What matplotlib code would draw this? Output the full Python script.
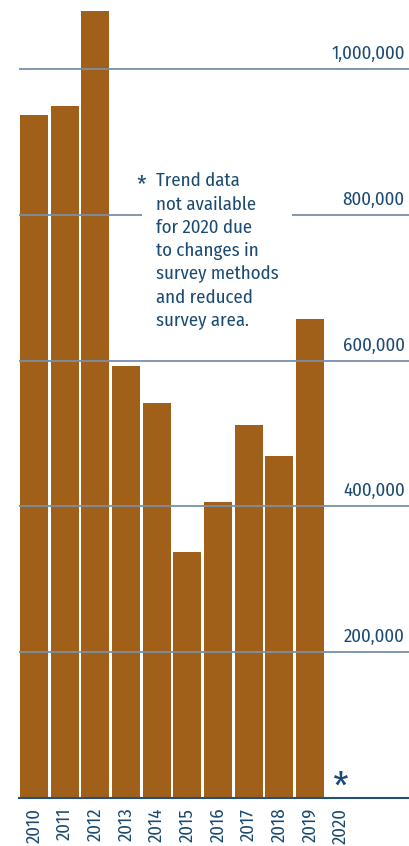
import matplotlib.pyplot as plt

# data
years = ["2010", "2011", "2012", "2013", "2014", "2015", "2016", "2017", "2018", "2019", "2020"]
counts = [937000, 949000, 1080000, 593000, 542000, 337000, 406000, 512000, 469000, 657000, None]
y_ticks = [200000, 400000, 600000, 800000, 1000000]
y_labels = ["200,000", "400,000", "600,000", "800,000", "1,000,000"]
note = "Trend data\nnot available\nfor 2020 due\nto changes in\nsurvey methods\nand reduced\nsurvey area."

bar_color = "#a0601a"
text_color = "#1b4a72"
grid_color = "#7890a8"
base_color = "#24507a"

plt.rcParams["font.family"] = ["Fira Sans Condensed", "DejaVu Sans"]

fig = plt.figure(figsize=(4.09, 8.46), dpi=100)
# axes: left edge 19px, right edge 409px, baseline at 798px
ax = fig.add_axes([19 / 409, 1 - 798 / 846, 390 / 409, 798 / 846])

xs = [i for i, v in enumerate(counts) if v is not None]
vals = [v for v in counts if v is not None]
ax.bar(xs, vals, width=0.913, color=bar_color, zorder=1)

ax.set_xlim(-0.489, 12.23)
ax.set_ylim(0, 1094700)

# horizontal grid drawn on top of the bars
for v in y_ticks:
    ax.axhline(v, color=grid_color, lw=1.3, zorder=2)
for v, lab in zip(y_ticks, y_labels):
    ax.annotate(lab, xy=(1, v), xycoords=("axes fraction", "data"),
                xytext=(-3, 7.2), textcoords="offset points",
                ha="right", va="baseline", fontsize=13.5, color=text_color)

for s in ["top", "left", "right"]:
    ax.spines[s].set_visible(False)
ax.spines["bottom"].set_color(base_color)
ax.spines["bottom"].set_linewidth(1.5)
ax.set_yticks([])
ax.set_xticks(range(len(years)), years, rotation=90, fontsize=13.5, color=text_color)
ax.tick_params(axis="x", length=0, pad=7)

# asterisk marking the missing 2020 value
ax.annotate("*", xy=(10, 0), xytext=(0, -7), textcoords="offset points",
            ha="center", va="bottom", fontsize=28, color=text_color)

# note box
ax.text(0.351, 0.784, note, transform=ax.transAxes, ha="left", va="top",
        fontsize=13.5, color=text_color, linespacing=1.38, zorder=3,
        bbox=dict(boxstyle="square,pad=0.72", facecolor="white", edgecolor="none"))
ax.text(0.302, 0.782, "*", transform=ax.transAxes, ha="left", va="top",
        fontsize=17, color=text_color, zorder=4)

fig.savefig("out.png", dpi=100)
